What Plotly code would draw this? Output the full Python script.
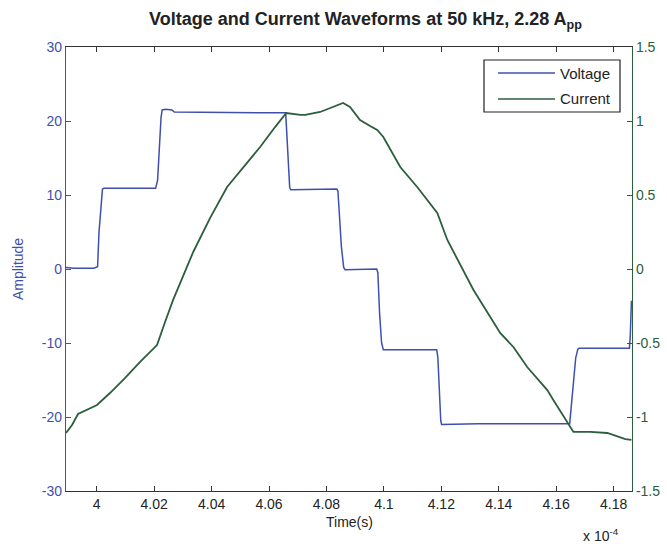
import plotly.graph_objects as go

# Time in units of 1e-4 s
volt_t = [3.9893, 3.9920, 3.9990, 4.0003, 4.0008, 4.0013, 4.0020, 4.0025, 4.0205, 4.0212,
          4.0218, 4.0224, 4.0228, 4.0240, 4.0262, 4.0270, 4.0658, 4.0662, 4.0666, 4.0672,
          4.0676, 4.0836, 4.0840, 4.0845, 4.0852, 4.0860, 4.0865, 4.0975, 4.0979, 4.0985,
          4.0992, 4.0998, 4.1184, 4.1188, 4.1193, 4.1198, 4.1201, 4.1330, 4.1647, 4.1652,
          4.1660, 4.1668, 4.1675, 4.1679, 4.1855, 4.1858, 4.1862]
volt_v = [0.2, 0.1, 0.1, 0.3, 5, 8, 10.8, 10.9, 10.9, 12,
          17, 20.5, 21.5, 21.6, 21.5, 21.2, 21.1, 18, 14, 11,
          10.7, 10.8, 10.5, 7, 3, 0.2, -0.1, 0.0, -0.5, -6,
          -10, -10.9, -10.9, -12, -17, -20.5, -21.0, -20.9, -20.9, -19,
          -15, -12, -10.9, -10.7, -10.7, -9, -4.3]

curr_t = [3.9893, 3.9914, 3.9935, 3.9959, 3.9984, 4.0001, 4.0046, 4.0099, 4.0151, 4.0210,
          4.0238, 4.0266, 4.0336, 4.0395, 4.0454, 4.0517, 4.0569, 4.0621, 4.0660, 4.0709,
          4.0726, 4.0778, 4.0813, 4.0841, 4.0858, 4.0882, 4.0917, 4.0952, 4.0977, 4.0998,
          4.1057, 4.1116, 4.1186, 4.1221, 4.1312, 4.1405, 4.1451, 4.1499, 4.1569, 4.1590,
          4.1646, 4.1660, 4.1674, 4.1719, 4.1778, 4.1806, 4.1841, 4.1862]
curr_i = [-1.108, -1.054, -0.980, -0.959, -0.939, -0.919, -0.838, -0.736, -0.628, -0.514,
          -0.358, -0.209, 0.115, 0.345, 0.554, 0.703, 0.824, 0.959, 1.054, 1.041,
          1.041, 1.061, 1.088, 1.108, 1.122, 1.095, 1.007, 0.966, 0.939, 0.892,
          0.689, 0.554, 0.378, 0.196, -0.142, -0.432, -0.527, -0.662, -0.818, -0.885,
          -1.054, -1.101, -1.101, -1.101, -1.108, -1.128, -1.149, -1.155]

x_ticks = [4.00, 4.02, 4.04, 4.06, 4.08, 4.10, 4.12, 4.14, 4.16, 4.18]
x_ticktext = ["4", "4.02", "4.04", "4.06", "4.08", "4.1", "4.12", "4.14", "4.16", "4.18"]
y1_ticks = [-30, -20, -10, 0, 10, 20, 30]
y1_ticktext = ["-30", "-20", "-10", "0", "10", "20", "30"]
y2_ticks = [-1.5, -1, -0.5, 0, 0.5, 1, 1.5]
y2_ticktext = ["-1.5", "-1", "-0.5", "0", "0.5", "1", "1.5"]
series_names = ["Voltage", "Current"]

BLUE = "#3f4fae"
GREEN = "#2b5e3c"
FONT = "Liberation Sans, Arial, sans-serif"
colors = [BLUE, GREEN]

fig = go.Figure()
fig.add_trace(go.Scatter(x=volt_t, y=volt_v, mode="lines", name=series_names[0],
                         line=dict(color=BLUE, width=1.5), yaxis="y", showlegend=False))
fig.add_trace(go.Scatter(x=curr_t, y=curr_i, mode="lines", name=series_names[1],
                         line=dict(color=GREEN, width=1.8), yaxis="y2", showlegend=False))

fig.update_layout(
    width=667, height=546,
    margin=dict(l=66, r=35, t=47, b=55, autoexpand=False),
    paper_bgcolor="white", plot_bgcolor="white",
    font=dict(family=FONT, size=13, color="#222"),
    title=dict(text="<b>Voltage and Current Waveforms at 50 kHz, 2.28 A<sub>pp</sub></b>",
               x=0.548, xanchor="center", y=0.965, yanchor="middle",
               font=dict(size=18, color="#222", family=FONT)),
    xaxis=dict(range=[3.9893, 4.1864], tickvals=x_ticks, ticktext=x_ticktext,
               showgrid=False, zeroline=False, showline=True, linecolor="#333",
               linewidth=1.2, mirror="ticks", ticks="inside", ticklen=5, tickcolor="#333",
               tickfont=dict(size=14, color="#222"), automargin=False),
    yaxis=dict(range=[-30, 30], tickvals=y1_ticks, ticktext=y1_ticktext,
               showgrid=False, zeroline=False,
               showline=True, linecolor=BLUE, linewidth=1.2, ticks="inside", ticklen=5,
               tickcolor=BLUE, tickfont=dict(size=14, color=BLUE), automargin=False,
               title=dict(text="Amplitude", font=dict(size=14, color=BLUE), standoff=14)),
    yaxis2=dict(range=[-1.5, 1.5], tickvals=y2_ticks, ticktext=y2_ticktext,
                overlaying="y", side="right",
                showgrid=False, zeroline=False, showline=True, linecolor=GREEN,
                linewidth=1.2, ticks="inside", ticklen=5, tickcolor=GREEN,
                tickfont=dict(size=14, color=GREEN), automargin=False),
    showlegend=False,
)

# x-axis title and exponent
fig.add_annotation(text="Time(s)", xref="paper", yref="paper", x=0.5, y=-0.070,
                   xanchor="center", yanchor="middle", showarrow=False,
                   font=dict(size=14, color="#222", family=FONT))
fig.add_annotation(text="x 10<sup>-4</sup>", xref="paper", yref="paper",
                   x=0.945, y=-0.100, xanchor="center", yanchor="middle", showarrow=False,
                   font=dict(size=14, color="#222", family=FONT))

# Legend box (MATLAB style)
fig.add_shape(type="rect", xref="paper", yref="paper", x0=0.7385, x1=0.9788,
              y0=0.8536, y1=0.9707, line=dict(color="#222", width=1.2),
              fillcolor="white", layer="above")
for i, (nm, col) in enumerate(zip(series_names, colors)):
    yy = 0.9414 - i * 0.0585
    fig.add_shape(type="line", xref="paper", yref="paper", x0=0.7633, x1=0.8640,
                  y0=yy, y1=yy, line=dict(color=col, width=1.5), layer="above")
    fig.add_annotation(text=nm, xref="paper", yref="paper", x=0.869, y=yy,
                       xanchor="left", yanchor="middle", showarrow=False,
                       font=dict(size=15, color="#222", family=FONT))

fig.write_html("out.html")
